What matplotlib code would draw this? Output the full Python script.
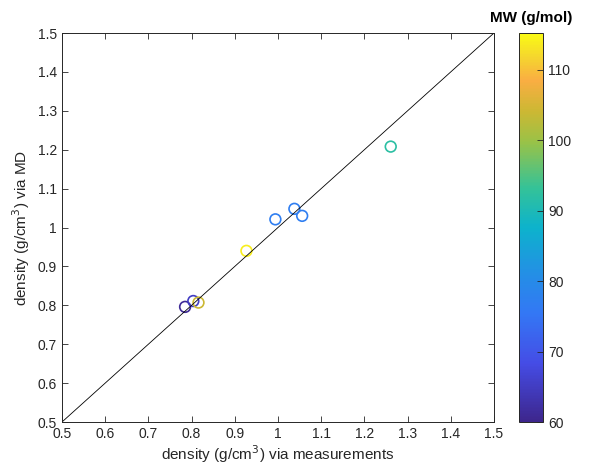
import numpy as np
import matplotlib.pyplot as plt
from matplotlib.colors import LinearSegmentedColormap

plt.rcParams['font.family'] = ['Liberation Sans', 'DejaVu Sans']

# data
rho_meas = [0.785, 0.804, 0.816, 0.927, 0.994, 1.038, 1.056, 1.261]
rho_md = [0.796, 0.811, 0.807, 0.940, 1.021, 1.048, 1.030, 1.208]
mw = [61, 65, 104, 114, 77, 77, 77, 92]

# parula-like colormap
parula = LinearSegmentedColormap.from_list('parula', [
    (0.00, (0.24, 0.15, 0.55)), (0.15, (0.27, 0.30, 0.90)),
    (0.28, (0.20, 0.47, 0.96)), (0.38, (0.14, 0.56, 0.90)),
    (0.50, (0.05, 0.70, 0.80)), (0.60, (0.20, 0.76, 0.60)),
    (0.72, (0.60, 0.76, 0.28)), (0.80, (0.80, 0.72, 0.20)),
    (0.88, (0.98, 0.68, 0.26)), (0.94, (0.96, 0.84, 0.18)),
    (1.00, (0.98, 0.98, 0.08))])

vmin, vmax = 60, 115.2

fig = plt.figure(figsize=(5.92, 4.69), dpi=100)
ax = fig.add_axes([0.1047, 0.1002, 0.7297, 0.8294])
cax = fig.add_axes([0.877, 0.1002, 0.0405, 0.8294])

ax.plot([0.5, 1.5], [0.5, 1.5], color='black', lw=0.6)
sc = ax.scatter(rho_meas, rho_md, c=mw, cmap=parula, vmin=vmin, vmax=vmax,
                marker='o', s=60, linewidths=1.2)
sc.set_facecolor('none')
sc.set_edgecolors(parula((np.array(mw) - vmin) / (vmax - vmin)))

ticks = np.round(np.arange(0.5, 1.51, 0.1), 1)
ax.set_xlim(0.5, 1.5)
ax.set_ylim(0.5, 1.5)
ax.set_xticks(ticks)
ax.set_yticks(ticks)
ax.set_xticklabels([f'{t:g}' for t in ticks])
ax.set_yticklabels([f'{t:g}' for t in ticks])
ax.tick_params(direction='in', top=True, right=True, length=4, width=0.6,
               labelsize=10, colors='#262626')
for s in ax.spines.values():
    s.set_linewidth(0.7)
    s.set_color('#262626')
ax.set_xlabel('density (g/cm$^3$) via measurements', fontsize=11, color='#262626', labelpad=2)
ax.set_ylabel('density (g/cm$^3$) via MD', fontsize=11, color='#262626', labelpad=4)

cb = fig.colorbar(sc, cax=cax)
cb.set_ticks([60, 70, 80, 90, 100, 110])
cb.ax.tick_params(direction='in', length=4, width=0.6, labelsize=10, colors='#262626')
cb.outline.set_linewidth(0.7)
cb.outline.set_edgecolor('#262626')
cax.set_title('MW (g/mol)', fontsize=11, fontweight='bold', pad=8)

fig.savefig('out.png', dpi=100)
